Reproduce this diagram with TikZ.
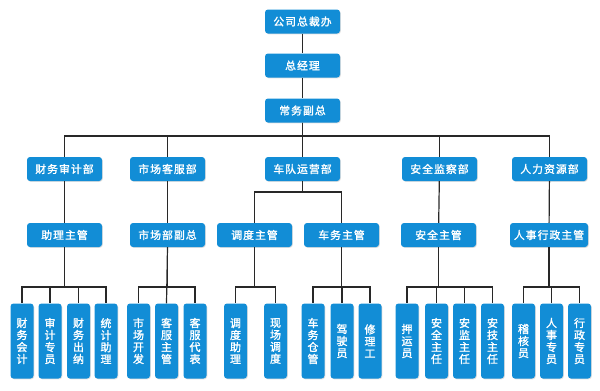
\documentclass[tikz,border=0pt]{standalone}
\usepackage{fontspec}
\newfontfamily\cjk[LetterSpace=10,FakeBold=1.6]{Noto Sans CJK SC}
\newfontfamily\cjkv[FakeBold=1.6]{Noto Sans CJK SC}
\usepackage{xcolor}
\usepackage{tikz}
\usetikzlibrary{positioning,shadows}
\definecolor{boxblue}{RGB}{18,141,214}
\definecolor{linegray}{RGB}{40,40,40}

\begin{document}
\begin{tikzpicture}[
  x=1pt, y=-1pt,
  box/.style={fill=boxblue, rounded corners=3pt, minimum width=75pt,
    minimum height=24pt, inner xsep=2pt, text=white,
    font=\cjk\fontsize{10.8}{12}\selectfont,
    drop shadow={shadow xshift=0.8pt, shadow yshift=-0.8pt, opacity=0.25}},
  leaf/.style={box, minimum width=23pt, minimum height=75pt,
    text width=12pt, inner xsep=0.5pt, align=center,
    font=\cjkv\fontsize{11}{12}\selectfont},
  link/.style={draw=linegray, line width=1.2pt},
]
\useasboundingbox (0,0) rectangle (600,391);

% top chain
\node[box] (ceo) at (302.5,21.5) {公司总裁办};
\node[box] (gm) at (302.5,65.5) {总经理};
\node[box] (vp) at (302.5,110.5) {常务副总};
\draw[link] (ceo) -- (gm); \draw[link] (gm) -- (vp);

% departments
\coordinate (busA) at (0,136);
\node[box] (fin) at (64.5,169) {财务审计部};
\node[box] (mkt) at (167.5,169) {市场客服部};
\node[box] (fleet) at (302.5,169) {车队运营部};
\node[box] (safe) at (439.5,169) {安全监察部};
\node[box] (hr) at (549.5,169) {人力资源部};
\draw[link] (vp.south) -- (vp.south |- busA) -| (fin.north);
\draw[link] (vp.south) -- (vp.south |- busA) -| (mkt.north);
\draw[link] (vp.south) -- (fleet.north);
\draw[link] (vp.south) -- (vp.south |- busA) -| (safe.north);
\draw[link] (vp.south) -- (vp.south |- busA) -| (hr.north);

% supervisors
\coordinate (busB) at (0,192);
\node[box] (finM) at (64.5,235) {助理主管};
\node[box] (mktM) at (167.5,235) {市场部副总};
\node[box] (disp) at (254.5,235) {调度主管};
\node[box] (car) at (341.5,235) {车务主管};
\node[box] (safeM) at (438.5,235) {安全主管};
\node[box, minimum width=78pt] (hrM) at (549,235) {人事行政主管};
\draw[link] (fin) -- (finM); \draw[link] (mkt) -- (mktM);
\draw[link] (fleet.south) -- (fleet.south |- busB) -| (disp.north);
\draw[link] (fleet.south) -- (fleet.south |- busB) -| (car.north);
\draw[link] (safe) -- (safeM); \draw[link] (hr) -- (hrM);

% staff
\coordinate (busC) at (0,287);
\node[leaf] (f1) at (22,341) {财\\务\\会\\计};
\node[leaf] (f2) at (50,341) {审\\计\\专\\员};
\node[leaf] (f3) at (78.5,341) {财\\务\\出\\纳};
\node[leaf] (f4) at (106,341) {统\\计\\助\\理};
\node[leaf] (m1) at (138.5,341) {市\\场\\开\\发};
\node[leaf] (m2) at (166.5,341) {客\\服\\主\\管};
\node[leaf] (m3) at (195,341) {客\\服\\代\\表};
\node[leaf] (d1) at (235.5,341) {调\\度\\助\\理};
\node[leaf] (d2) at (275.5,341) {现\\场\\调\\度};
\node[leaf] (c1) at (313,341) {车\\务\\仓\\管};
\node[leaf] (c2) at (342,341) {驾\\驶\\员};
\node[leaf] (c3) at (370,341) {修\\理\\工};
\node[leaf] (s1) at (407,341) {押\\运\\员};
\node[leaf] (s2) at (436.5,341) {安\\全\\主\\任};
\node[leaf] (s3) at (464.5,341) {安\\监\\主\\任};
\node[leaf] (s4) at (492.5,341) {安\\技\\主\\任};
\node[leaf] (h1) at (523.5,341) {稽\\核\\员};
\node[leaf] (h2) at (551.5,341) {人\\事\\专\\员};
\node[leaf] (h3) at (579.5,341) {行\\政\\专\\员};

\draw[link] (finM.south) -- (finM.south |- busC) -| (f1.north);
\draw[link] (finM.south) -- (finM.south |- busC) -| (f2.north);
\draw[link] (finM.south) -- (finM.south |- busC) -| (f3.north);
\draw[link] (finM.south) -- (finM.south |- busC) -| (f4.north);
\draw[link] (mktM.south) -- (mktM.south |- busC) -| (m1.north);
\draw[link] (mktM.south) -- (m2.north);
\draw[link] (mktM.south) -- (mktM.south |- busC) -| (m3.north);
\draw[link] (disp.south) -- (disp.south |- busC) -| (d1.north);
\draw[link] (disp.south) -- (disp.south |- busC) -| (d2.north);
\draw[link] (car.south) -- (car.south |- busC) -| (c1.north);
\draw[link] (car.south) -- (car.south |- busC) -| (c2.north);
\draw[link] (car.south) -- (car.south |- busC) -| (c3.north);
\draw[link] (safeM.south) -- (safeM.south |- busC) -| (s1.north);
\draw[link] (safeM.south) -- (safeM.south |- busC) -| (s2.north);
\draw[link] (safeM.south) -- (safeM.south |- busC) -| (s3.north);
\draw[link] (safeM.south) -- (safeM.south |- busC) -| (s4.north);
\draw[link] (hrM.south) -- (hrM.south |- busC) -| (h1.north);
\draw[link] (hrM.south) -- (hrM.south |- busC) -| (h2.north);
\draw[link] (hrM.south) -- (hrM.south |- busC) -| (h3.north);
\end{tikzpicture}
\end{document}
